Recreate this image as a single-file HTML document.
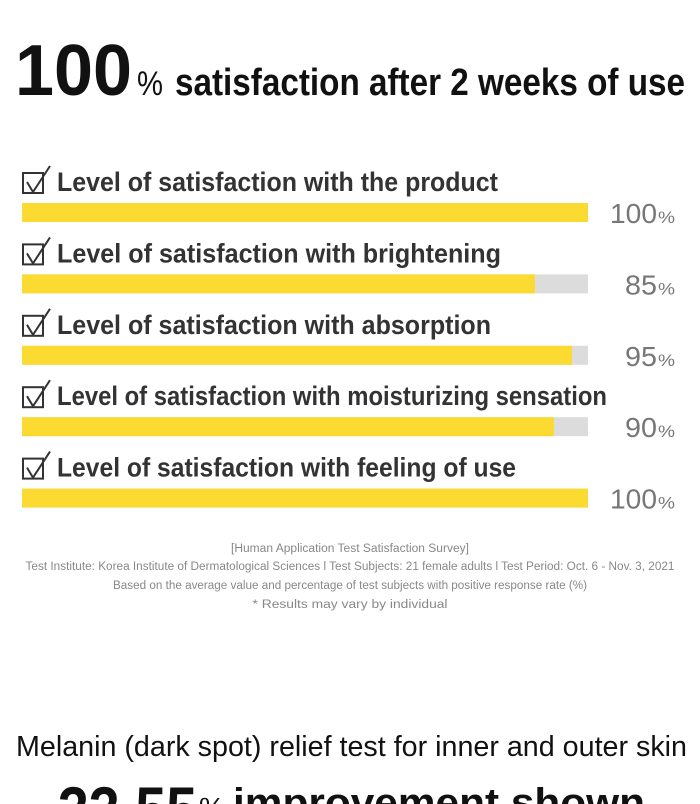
<!DOCTYPE html>
<html>
<head>
<meta charset="utf-8">
<style>
  html,body{margin:0;padding:0;background:#fff;}
  body{width:700px;height:804px;overflow:hidden;}
  svg{display:block;}
  text{font-family:"Liberation Sans", "Noto Sans CJK KR", sans-serif;}
</style>
</head>
<body>
<svg width="700" height="804" viewBox="0 0 700 804" xmlns="http://www.w3.org/2000/svg">
  <defs>
    <clipPath id="page"><rect x="0" y="0" width="700" height="804"/></clipPath>
  </defs>
  <rect x="0" y="0" width="700" height="804" fill="#ffffff"/>

  <!-- Title -->
  <text x="15" y="95" font-size="72" font-weight="bold" fill="#111" textLength="117" lengthAdjust="spacingAndGlyphs">100</text>
  <text x="137" y="95" font-size="34" fill="#111" textLength="26" lengthAdjust="spacingAndGlyphs">%</text>
  <text x="175" y="95" font-size="38" font-weight="bold" fill="#111" textLength="510" lengthAdjust="spacingAndGlyphs">satisfaction after 2 weeks of use</text>

  <!-- Row 1 -->
  <g>
    <rect x="23" y="173" width="20" height="20" fill="none" stroke="#333" stroke-width="2"/>
    <polyline points="27,182 33,192 50,166" fill="none" stroke="#333" stroke-width="2"/>
    <text x="57" y="191" font-size="27" font-weight="bold" fill="#333" textLength="441" lengthAdjust="spacingAndGlyphs">Level of satisfaction with the product</text>
    <rect x="22" y="203" width="566" height="19" fill="#dcdcdc"/>
    <rect x="22" y="203" width="566" height="19" fill="#fbda32"/>
    <text x="610" y="223" font-size="28" fill="#777" textLength="47" lengthAdjust="spacingAndGlyphs">100</text>
    <text x="658" y="223" font-size="17" fill="#777" textLength="17" lengthAdjust="spacingAndGlyphs">%</text>
  </g>

  <!-- Row 2 -->
  <g transform="translate(0,71.4)">
    <rect x="23" y="173" width="20" height="20" fill="none" stroke="#333" stroke-width="2"/>
    <polyline points="27,182 33,192 50,166" fill="none" stroke="#333" stroke-width="2"/>
    <text x="57" y="191" font-size="27" font-weight="bold" fill="#333" textLength="444" lengthAdjust="spacingAndGlyphs">Level of satisfaction with brightening</text>
    <rect x="22" y="203" width="566" height="19" fill="#dcdcdc"/>
    <rect x="22" y="203" width="513" height="19" fill="#fbda32"/>
    <text x="625" y="223" font-size="28" fill="#777" textLength="32" lengthAdjust="spacingAndGlyphs">85</text>
    <text x="658" y="223" font-size="17" fill="#777" textLength="17" lengthAdjust="spacingAndGlyphs">%</text>
  </g>

  <!-- Row 3 -->
  <g transform="translate(0,142.8)">
    <rect x="23" y="173" width="20" height="20" fill="none" stroke="#333" stroke-width="2"/>
    <polyline points="27,182 33,192 50,166" fill="none" stroke="#333" stroke-width="2"/>
    <text x="57" y="191" font-size="27" font-weight="bold" fill="#333" textLength="434" lengthAdjust="spacingAndGlyphs">Level of satisfaction with absorption</text>
    <rect x="22" y="203" width="566" height="19" fill="#dcdcdc"/>
    <rect x="22" y="203" width="550" height="19" fill="#fbda32"/>
    <text x="625" y="223" font-size="28" fill="#777" textLength="32" lengthAdjust="spacingAndGlyphs">95</text>
    <text x="658" y="223" font-size="17" fill="#777" textLength="17" lengthAdjust="spacingAndGlyphs">%</text>
  </g>

  <!-- Row 4 -->
  <g transform="translate(0,214.2)">
    <rect x="23" y="173" width="20" height="20" fill="none" stroke="#333" stroke-width="2"/>
    <polyline points="27,182 33,192 50,166" fill="none" stroke="#333" stroke-width="2"/>
    <text x="57" y="191" font-size="27" font-weight="bold" fill="#333" textLength="550" lengthAdjust="spacingAndGlyphs">Level of satisfaction with moisturizing sensation</text>
    <rect x="22" y="203" width="566" height="19" fill="#dcdcdc"/>
    <rect x="22" y="203" width="532" height="19" fill="#fbda32"/>
    <text x="625" y="223" font-size="28" fill="#777" textLength="32" lengthAdjust="spacingAndGlyphs">90</text>
    <text x="658" y="223" font-size="17" fill="#777" textLength="17" lengthAdjust="spacingAndGlyphs">%</text>
  </g>

  <!-- Row 5 -->
  <g transform="translate(0,285.6)">
    <rect x="23" y="173" width="20" height="20" fill="none" stroke="#333" stroke-width="2"/>
    <polyline points="27,182 33,192 50,166" fill="none" stroke="#333" stroke-width="2"/>
    <text x="57" y="191" font-size="27" font-weight="bold" fill="#333" textLength="459" lengthAdjust="spacingAndGlyphs">Level of satisfaction with feeling of use</text>
    <rect x="22" y="203" width="566" height="19" fill="#dcdcdc"/>
    <rect x="22" y="203" width="566" height="19" fill="#fbda32"/>
    <text x="610" y="223" font-size="28" fill="#777" textLength="47" lengthAdjust="spacingAndGlyphs">100</text>
    <text x="658" y="223" font-size="17" fill="#777" textLength="17" lengthAdjust="spacingAndGlyphs">%</text>
  </g>

  <!-- Footer notes -->
  <g font-size="11.5" fill="#888" text-anchor="middle">
    <text x="350" y="552" textLength="238" lengthAdjust="spacingAndGlyphs">[Human Application Test Satisfaction Survey]</text>
    <text x="350" y="570" textLength="649" lengthAdjust="spacingAndGlyphs">Test Institute: Korea Institute of Dermatological Sciences  l  Test Subjects: 21 female adults  l  Test Period: Oct. 6 - Nov. 3, 2021</text>
    <text x="350" y="589" textLength="474" lengthAdjust="spacingAndGlyphs">Based on the average value and percentage of test subjects with positive response rate (%)</text>
    <text x="350" y="608" textLength="195" lengthAdjust="spacingAndGlyphs">* Results may vary by individual</text>
  </g>

  <!-- Bottom section -->
  <text x="16" y="756" font-size="29" fill="#111" textLength="671" lengthAdjust="spacingAndGlyphs">Melanin (dark spot) relief test for inner and outer skin</text>
  <g clip-path="url(#page)">
    <text x="58" y="833" font-size="66" font-weight="bold" fill="#111" textLength="139" lengthAdjust="spacingAndGlyphs">33.55</text>
    <text x="199" y="816" font-size="26" fill="#111" textLength="26" lengthAdjust="spacingAndGlyphs">%</text>
    <text x="233" y="816" font-size="40" font-weight="bold" fill="#111" textLength="412" lengthAdjust="spacingAndGlyphs">improvement shown</text>
  </g>
</svg>
</body>
</html>
